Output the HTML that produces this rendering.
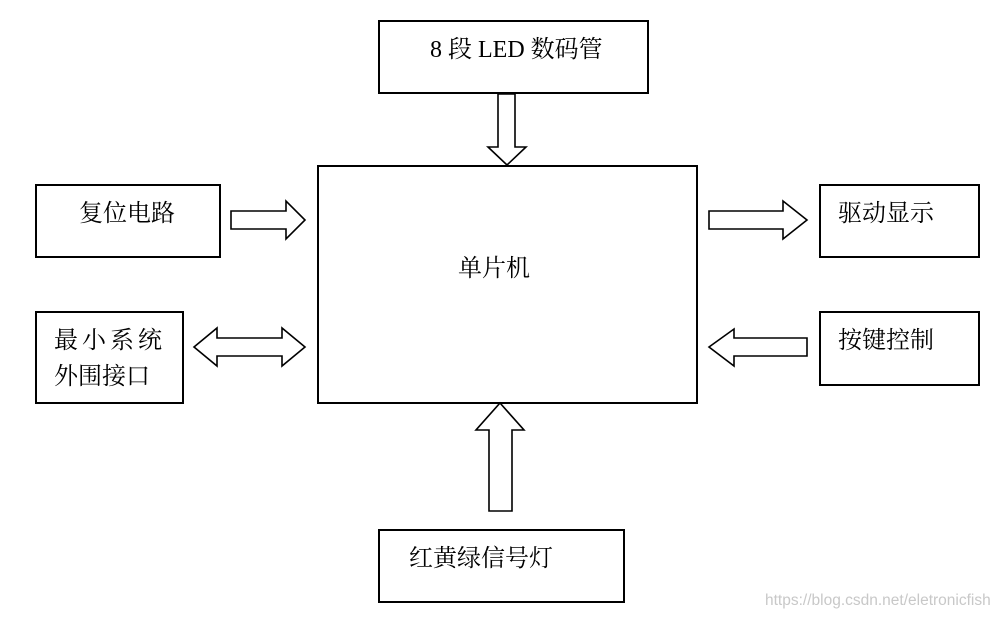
<!DOCTYPE html>
<html><head><meta charset="utf-8"><style>
body{margin:0;background:#fff;}
svg text{font-family:"Liberation Serif","Noto Serif CJK SC",serif;font-size:24px;fill:#000;}
</style></head><body>
<svg width="1004" height="617" viewBox="0 0 1004 617" xmlns="http://www.w3.org/2000/svg">
<g fill="#fff" stroke="#000" stroke-width="2">
<rect x="379" y="21" width="269" height="72"/>
<rect x="318" y="166" width="379" height="237"/>
<rect x="36" y="185" width="184" height="72"/>
<rect x="36" y="312" width="147" height="91"/>
<rect x="820" y="185" width="159" height="72"/>
<rect x="820" y="312" width="159" height="73"/>
<rect x="379" y="530" width="245" height="72"/>
</g>
<g fill="#fff" stroke="#000" stroke-width="1.6" stroke-linejoin="miter">
<polygon points="498,94 515,94 515,147 526,147 507,165 488,147 498,147"/>
<polygon points="231,211 286,211 286,201 305,220 286,239 286,229 231,229"/>
<polygon points="194,347 217,328 217,338 282,338 282,328 305,347 282,366 282,356 217,356 217,366"/>
<polygon points="709,211 783,211 783,201 807,220 783,239 783,229 709,229"/>
<polygon points="709,347 734,329 734,338 807,338 807,356 734,356 734,366"/>
<polygon points="500,403 524,430 512,430 512,511 489,511 489,430 476,430"/>
</g>
<text x="430" y="57">8 段 LED 数码管</text>
<text x="458" y="276">单片机</text>
<text x="79" y="221">复位电路</text>
<text x="54" y="348" letter-spacing="4">最小系统</text>
<text x="54" y="384">外围接口</text>
<text x="838" y="221">驱动显示</text>
<text x="838" y="348">按键控制</text>
<text x="409" y="566">红黄绿信号灯</text>
<text x="765" y="605" style="font-family:'Liberation Sans',sans-serif;font-size:15.5px;fill:#c8c8c8">https://blog.csdn.net/eletronicfish</text>
</svg>
</body></html>
